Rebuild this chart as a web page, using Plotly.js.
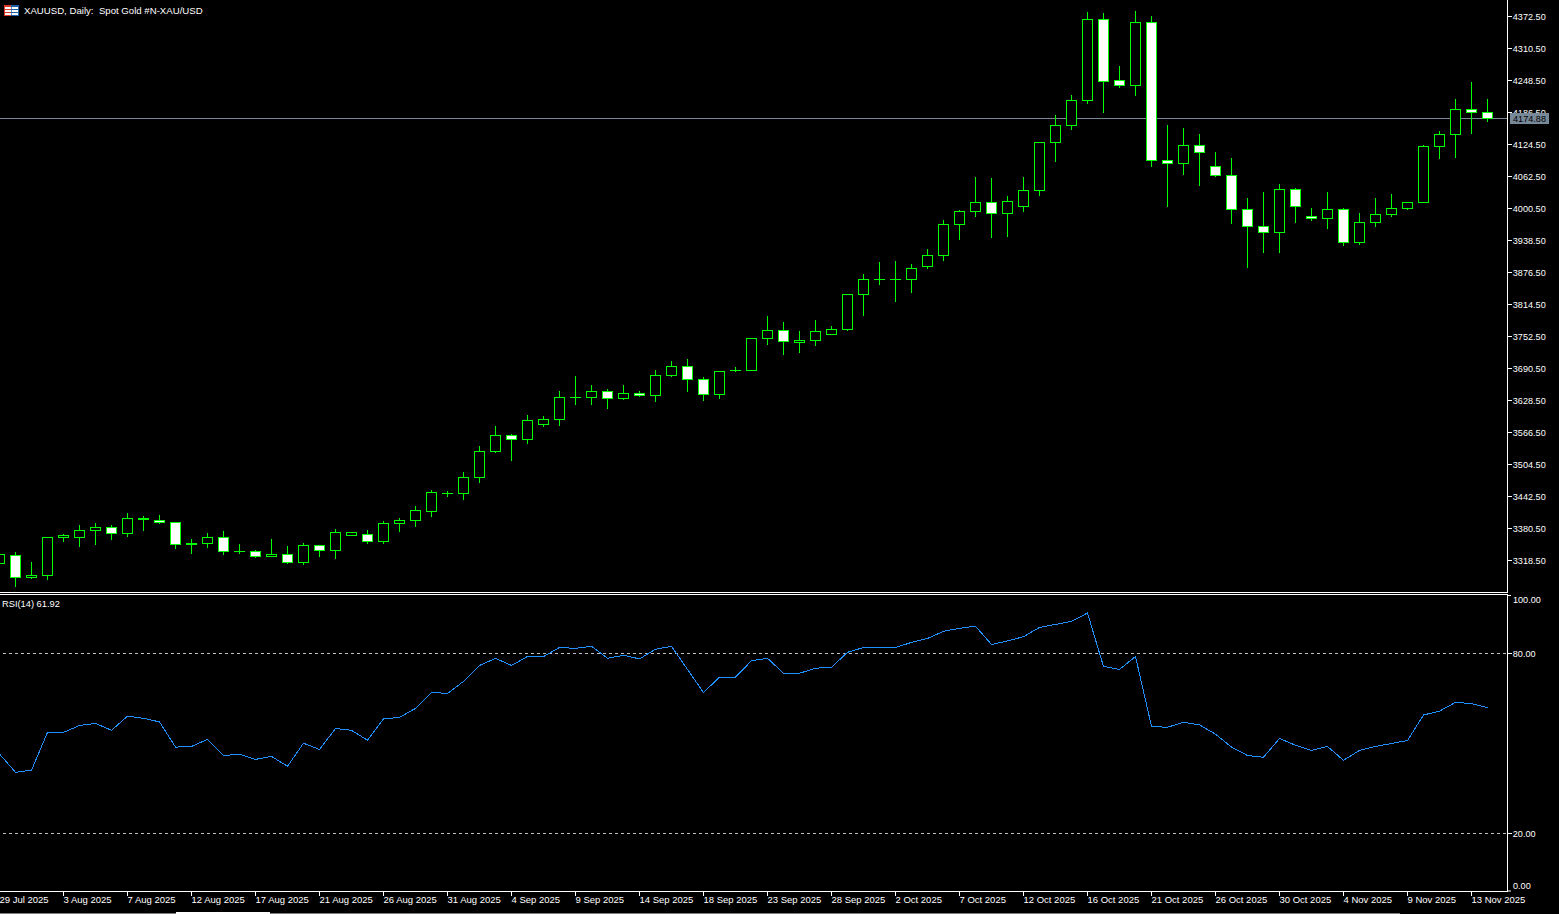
<!DOCTYPE html>
<html>
<head>
<meta charset="utf-8">
<script src="https://cdn.plot.ly/plotly-3.0.1.min.js"></script>
<style>
html,body{margin:0;padding:0;background:#000;overflow:hidden;width:1559px;height:914px}
#chart{position:absolute;left:-3px;top:0;width:1562px;height:914px}
</style>
</head>
<body>
<div id="chart"></div>
<script>
const barIndex = Array.from({length: 94}, (_, i) => i);

const open = [3312.7,3328.2,3285.5,3289.0,3363.0,3363.0,3376.6,3382.4,3370.8,3397.5,3396.0,3392.1,3349.1,3351.4,3363.0,3336.2,3335.9,3327.2,3330.1,3314.6,3347.5,3337.9,3367.9,3368.9,3355.3,3390.2,3396.0,3414.4,3448.6,3448.3,3479.3,3529.7,3560.7,3552.9,3582.0,3591.7,3634.6,3634.3,3646.0,3632.4,3642.1,3638.2,3677.0,3694.4,3669.2,3640.1,3686.9,3686.6,3748.6,3764.1,3741.8,3744.7,3756.4,3766.0,3833.9,3863.2,3863.2,3862.9,3888.1,3909.5,3969.5,3994.7,4012.1,3990.8,4004.4,4035.4,4128.4,4161.3,4209.8,4366.7,4248.5,4238.8,4360.9,4093.5,4087.7,4122.5,4081.9,4064.4,3998.6,3965.6,3954.0,4037.3,3985.0,3981.1,3998.6,3934.6,3973.4,3988.9,4000.5,4012.1,4120.6,4143.9,4192.3,4186.5];
const high = [3331.1,3335.0,3315.6,3364.0,3369.8,3387.3,3391.1,3387.3,3410.5,3404.7,3406.6,3393.1,3360.1,3371.8,3375.6,3350.5,3338.8,3360.1,3346.6,3352.4,3348.5,3379.5,3373.7,3377.6,3395.0,3400.8,3424.1,3455.1,3453.2,3490.0,3540.3,3579.1,3563.6,3600.4,3598.5,3646.9,3676.0,3658.6,3650.8,3658.6,3646.9,3687.6,3705.1,3708.9,3674.0,3685.7,3693.4,3749.6,3792.2,3780.6,3763.1,3784.5,3772.8,3834.8,3873.6,3896.8,3898.8,3893.0,3922.0,3978.2,3997.6,4061.5,4059.6,4024.7,4061.5,4129.3,4181.6,4220.4,4381.2,4379.3,4276.6,4383.2,4373.5,4162.3,4156.5,4144.8,4110.0,4098.3,4020.8,4032.5,4048.0,4040.2,4001.5,4032.5,4001.5,3991.8,4020.8,4028.6,4013.1,4123.5,4150.6,4212.7,4245.6,4212.7];
const low = [3309.8,3267.7,3282.6,3280.7,3354.3,3344.6,3348.5,3358.2,3364.0,3375.6,3389.2,3340.8,3331.1,3342.7,3329.1,3331.1,3323.3,3325.3,3311.7,3309.8,3325.3,3321.4,3366.0,3350.5,3350.5,3373.7,3383.4,3402.8,3441.5,3435.7,3468.6,3526.8,3511.3,3544.2,3577.2,3579.1,3619.8,3619.8,3612.1,3629.5,3635.3,3625.6,3674.0,3645.0,3627.5,3631.4,3683.7,3685.7,3736.0,3716.6,3720.5,3734.1,3755.4,3763.1,3792.2,3852.3,3819.3,3836.8,3883.3,3898.8,3939.5,3984.0,3943.4,3945.3,3993.7,4024.7,4090.6,4152.6,4203.0,4185.5,4234.0,4218.5,4080.9,4003.4,4065.4,4044.1,4061.5,3970.5,3885.2,3914.3,3914.3,3972.4,3976.3,3960.8,3927.9,3929.8,3964.6,3984.0,3997.6,4011.2,4096.4,4098.3,4144.8,4168.1];
const close = [3329.2,3285.5,3289.4,3363.0,3366.0,3376.6,3382.4,3370.8,3399.9,3400.8,3392.1,3349.5,3352.4,3363.0,3335.9,3336.4,3326.2,3331.1,3314.6,3347.5,3337.9,3372.7,3371.8,3355.3,3390.2,3396.0,3415.4,3450.2,3448.8,3479.3,3529.7,3560.7,3552.9,3589.8,3591.7,3634.3,3634.8,3646.0,3632.4,3642.1,3638.2,3677.0,3694.4,3669.2,3640.1,3684.7,3687.1,3748.6,3764.1,3742.8,3745.7,3762.2,3766.0,3833.9,3862.9,3863.4,3863.4,3884.2,3909.5,3969.5,3994.7,4012.1,3990.8,4014.1,4035.4,4128.4,4161.3,4209.8,4366.7,4246.6,4238.8,4360.9,4093.5,4087.7,4122.5,4109.0,4064.4,3998.6,3965.6,3954.0,4037.3,4004.4,3981.1,3998.6,3934.6,3973.4,3988.9,4000.5,4012.1,4120.6,4143.9,4192.3,4186.5,4174.88];

const rsi = [46.5,40.4,41.1,53.7,53.7,56.0,56.7,54.4,59.1,58.4,57.2,48.8,49.0,51.4,46.0,46.4,44.7,45.7,42.4,50.1,48.0,55.0,54.4,51.1,58.2,58.7,61.7,67.0,66.7,70.7,76.0,78.4,76.0,79.0,79.0,82.0,81.7,82.4,78.4,79.4,78.2,81.4,82.4,74.7,67.0,72.1,72.1,77.6,78.4,73.4,73.4,75.1,75.4,80.4,82.0,82.0,82.0,83.7,85.0,87.4,88.4,89.1,83.0,84.2,85.6,88.7,89.7,90.7,93.5,75.7,74.7,79.0,55.7,55.4,57.1,56.2,53.1,48.8,46.0,45.4,51.7,49.4,47.7,49.0,44.4,47.7,49.0,50.1,51.0,59.5,60.8,63.7,63.3,61.92];

const dateTicks = [0,4,8,12,16,20,24,28,32,36,40,44,48,52,56,60,64,68,72,76,80,84,88,92];
const dateLabels = ["29 Jul 2025","3 Aug 2025","7 Aug 2025","12 Aug 2025","17 Aug 2025","21 Aug 2025","26 Aug 2025","31 Aug 2025","4 Sep 2025","9 Sep 2025","14 Sep 2025","18 Sep 2025","23 Sep 2025","28 Sep 2025","2 Oct 2025","7 Oct 2025","12 Oct 2025","16 Oct 2025","21 Oct 2025","26 Oct 2025","30 Oct 2025","4 Nov 2025","9 Nov 2025","13 Nov 2025"];
const priceTicks = [3318.5,3380.5,3442.5,3504.5,3566.5,3628.5,3690.5,3752.5,3814.5,3876.5,3938.5,4000.5,4062.5,4124.5,4186.5,4248.5,4310.5,4372.5];
const rsiTicks = [80,20];
const rsiLevels = [80,20];
const lastPrice = 4174.88;
const titleText = "XAUUSD, Daily:  Spot Gold #N-XAU/USD";
const rsiLabel = "RSI(14) 61.92";

const OFFSET = 3;
const W = 1562, H = 914, MR = 52, MB = 23;
const PW = W - MR, PH = H - MB;
const px = x => (x + OFFSET) / PW;
const py = y => (PH - y) / PH;
const GREEN = "#00ff00", WHITE = "#ffffff", FONT = "Liberation Sans";
const tf = {family: FONT, size: 9.5, color: WHITE};
const yf = {family: FONT, size: 9.1, color: WHITE};
const xRange = [(-OFFSET + 0.5) / 16, 94.21875];

const traces = [
  {type: "candlestick", x: barIndex, open, high, low, close, xaxis: "x", yaxis: "y",
   increasing: {line: {color: GREEN, width: 1}, fillcolor: "#000000"},
   decreasing: {line: {color: GREEN, width: 1}, fillcolor: "#ffffff"},
   whiskerwidth: 0, hoverinfo: "skip", showlegend: false},
  {type: "scatter", mode: "lines", x: barIndex, y: rsi, xaxis: "x2", yaxis: "y2",
   line: {color: "#1e90ff", width: 1}, hoverinfo: "skip", showlegend: false}
];

const rect = (x0, y0, x1, y1, fill) => ({type: "rect", xref: "paper", yref: "paper",
  x0: px(x0), x1: px(x1), y0: py(y0), y1: py(y1), fillcolor: fill, line: {width: 0}, layer: "above"});

const shapes = [
  {type: "line", xref: "paper", x0: 0, x1: 1, yref: "y", y0: lastPrice, y1: lastPrice,
   line: {color: "#778899", width: 1}, layer: "below"},
  ...rsiLevels.map(v => ({type: "line", xref: "paper", x0: 0, x1: 1, yref: "y2", y0: v, y1: v,
    line: {color: "#c0c0c0", width: 1, dash: "3px,3px"}, layer: "below"})),
  rect(4, 5, 11, 16, "#d8392b"), rect(11, 5, 19, 16, "#1e5fa8"),
  rect(5, 7, 18, 9, "#ffffff"), rect(5, 10, 18, 12, "#ffffff"), rect(5, 13, 18, 15, "#ffffff"),
  rect(11, 7, 11.7, 15, "#1e5fa8"),
  rect(1507, 595, 1511, 596, WHITE), rect(1507, 890.5, 1511, 891.5, WHITE),
  rect(0, 913, 1400, 914, "#808080"), rect(176, 912, 270, 914, WHITE)
];

const ann = (text, x, y, opt = {}) => Object.assign({
  text, xref: "paper", yref: "paper", x: px(x), y: py(y), xanchor: "left", yanchor: "middle",
  showarrow: false, font: tf, borderpad: 0, borderwidth: 0}, opt);

const annotations = [
  ann(titleText, 24, 10.5, {font: {family: FONT, size: 9.65, color: WHITE}}),
  ann(rsiLabel, 2, 604, {font: {family: FONT, size: 9.3, color: WHITE}}),
  ann("100.00", 1513, 599.5, {font: yf}),
  ann("0.00", 1513, 885.5, {font: yf}),
  {text: lastPrice.toFixed(2), xref: "paper", x: px(1510), xanchor: "left", yref: "y", y: lastPrice, yanchor: "middle", yshift: 0.5,
   showarrow: false, bgcolor: "#778899", font: {family: FONT, size: 9.1, color: "#000000"}, borderpad: 0, borderwidth: 0, width: 39, height: 11, align: "center"}
];

const layout = {
  width: W, height: H, paper_bgcolor: "#000000", plot_bgcolor: "#000000",
  margin: {l: 0, r: MR, t: 0, b: MB, pad: 0}, showlegend: false, dragmode: false, boxgap: 1 / 6,
  xaxis: {domain: [0, 1], range: xRange, anchor: "y", showgrid: false, zeroline: false,
          showticklabels: false, ticks: "", showline: true, linecolor: WHITE, linewidth: 1, rangeslider: {visible: false}},
  yaxis: {domain: [1 - 592 / 891, 1], range: [3257.47, 4404.47], anchor: "x", side: "right", showgrid: false, zeroline: false,
          tickmode: "array", tickvals: priceTicks, ticktext: priceTicks.map(v => v.toFixed(2)), ticks: "outside", ticklen: 4,
          tickcolor: WHITE, tickwidth: 1, showline: true, linecolor: WHITE, linewidth: 1, tickfont: yf, ticklabelstandoff: -1},
  xaxis2: {domain: [0, 1], range: xRange, anchor: "y2", showgrid: false, zeroline: false,
           tickmode: "array", tickvals: dateTicks, ticktext: dateLabels, ticks: "outside", ticklen: 4, tickcolor: WHITE, tickwidth: 1,
           ticklabelposition: "outside right", ticklabelshift: -1, tickangle: 0, showline: true, mirror: true, linecolor: WHITE, linewidth: 1, tickfont: tf},
  yaxis2: {domain: [0, 1 - 595 / 891], range: [0.83, 99.5], anchor: "x2", side: "right", showgrid: false, zeroline: false,
           tickmode: "array", tickvals: rsiTicks, ticktext: rsiTicks.map(v => v.toFixed(2)), ticks: "outside", ticklen: 4,
           tickcolor: WHITE, tickwidth: 1, showline: true, linecolor: WHITE, linewidth: 1, tickfont: yf, ticklabelstandoff: -1},
  shapes, annotations
};

Plotly.newPlot("chart", traces, layout, {displayModeBar: false, staticPlot: true}).then(gd => {
  // The candlestick draws an inner median stroke next to the close edge; MT-style bodies have none.
  gd.querySelectorAll(".boxlayer path").forEach(p => {
    const d = p.getAttribute("d");
    p.setAttribute("d", d.replace(/M[-\d.]+,[-\d.]+H[-\d.]+(?=M)/, ""));
    p.style.shapeRendering = "crispEdges";
  });
  gd.querySelectorAll(".scatterlayer path").forEach(p => p.style.shapeRendering = "crispEdges");
});
</script>
</body>
</html>
